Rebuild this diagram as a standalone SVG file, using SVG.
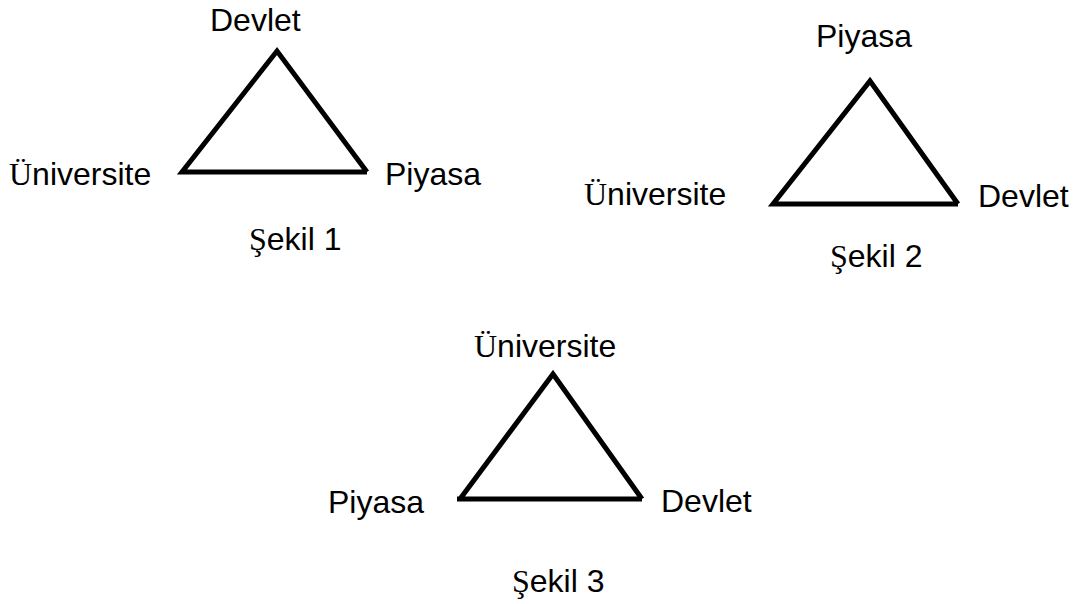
<svg xmlns="http://www.w3.org/2000/svg" width="1081" height="604" viewBox="0 0 1081 604">
<style>
text{font-family:"Liberation Sans",Arial,sans-serif;font-size:32px;fill:#000}
.s{font-family:"Liberation Serif","Times New Roman",serif}
.tri{fill:none;stroke:#000;stroke-width:5;stroke-linejoin:miter;stroke-linecap:butt;stroke-miterlimit:10}
</style>
<rect width="1081" height="604" fill="#fff"/>
<g id="connectors">
<path class="tri" d="M367,172 L182,172 L277,51 L367,172"/>
<path class="tri" d="M958,204 L773,204 L870,81 L958,204"/>
<path class="tri" d="M457,499 L642,499 M642,499 L553,374 L460,499"/>
</g>
<g id="fig1-devlet"><text x="210" y="31">Devlet</text></g>
<g id="fig1-universite"><text x="9" y="185"><tspan class="s">Ü</tspan>niversite</text></g>
<g id="fig1-piyasa"><text x="385" y="185">Piyasa</text></g>
<g id="fig1-caption"><text x="249" y="250"><tspan class="s">Ş</tspan>ekil 1</text></g>
<g id="fig2-piyasa"><text x="816" y="47">Piyasa</text></g>
<g id="fig2-universite"><text x="584" y="205"><tspan class="s">Ü</tspan>niversite</text></g>
<g id="fig2-devlet"><text x="978" y="207">Devlet</text></g>
<g id="fig2-caption"><text x="830" y="267"><tspan class="s">Ş</tspan>ekil 2</text></g>
<g id="fig3-universite"><text x="474" y="357"><tspan class="s">Ü</tspan>niversite</text></g>
<g id="fig3-piyasa"><text x="328" y="513">Piyasa</text></g>
<g id="fig3-devlet"><text x="661" y="512">Devlet</text></g>
<g id="fig3-caption"><text x="512" y="592"><tspan class="s">Ş</tspan>ekil 3</text></g>
</svg>
